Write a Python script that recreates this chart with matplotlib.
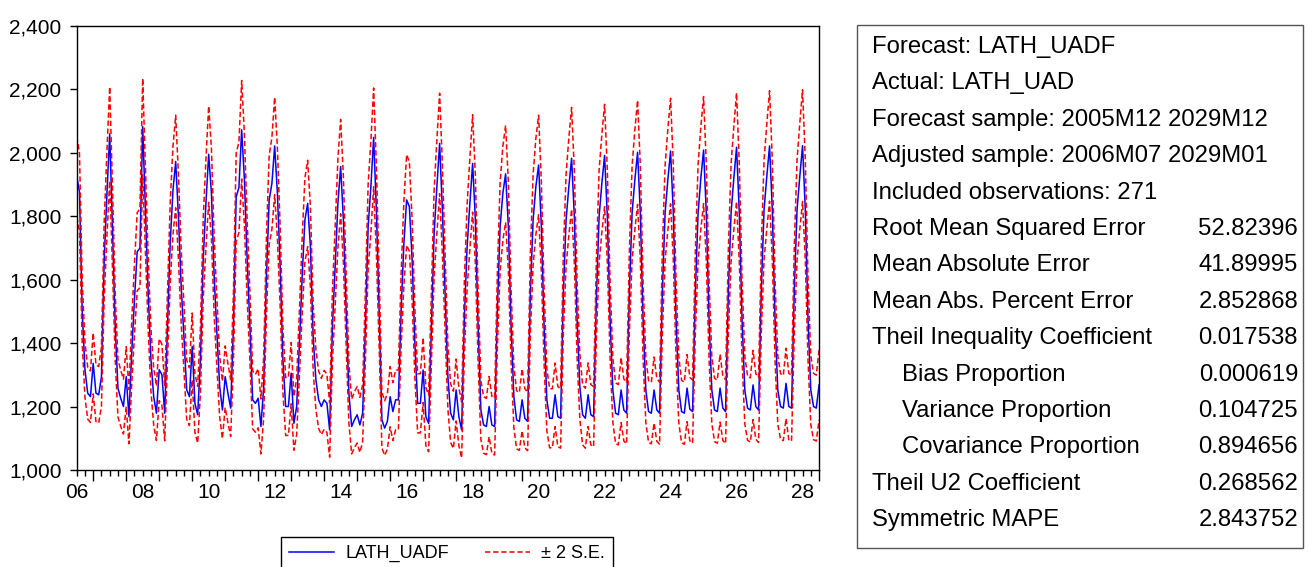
import numpy as np
import pandas as pd
import matplotlib
matplotlib.use('Agg')
import matplotlib.pyplot as plt
from matplotlib.lines import Line2D
from matplotlib.patches import Rectangle

plt.rcParams['font.family'] = ['Liberation Sans', 'DejaVu Sans']

# forecast LATH_UADF, monthly, 2006M07 .. 2029M01
y2006 = [1925, 1877, 1500, 1316, 1242, 1231]
y2007 = [1336, 1242, 1237, 1294, 1662, 1872, 2059, 1767, 1452, 1258, 1226, 1200]
y2008 = [1294, 1168, 1368, 1536, 1688, 1699, 2082, 1819, 1557, 1347, 1231, 1179]
y2009 = [1316, 1300, 1179, 1450, 1714, 1880, 1972, 1798, 1578, 1420, 1253, 1231]
y2010 = [1389, 1210, 1174, 1347, 1662, 1840, 1995, 1872, 1609, 1431, 1263, 1189]
y2011 = [1294, 1242, 1195, 1450, 1860, 1890, 2072, 1914, 1662, 1452, 1221, 1210]
y2012 = [1226, 1137, 1260, 1609, 1851, 1903, 2021, 1872, 1641, 1347, 1200, 1200]
y2013 = [1305, 1147, 1200, 1399, 1609, 1788, 1840, 1704, 1420, 1284, 1221, 1200]
y2014 = [1221, 1210, 1126, 1450, 1641, 1840, 1956, 1788, 1504, 1242, 1137, 1158]
y2015 = [1174, 1142, 1179, 1452, 1767, 1893, 2048, 1819, 1504, 1158, 1132, 1153]
y2016 = [1231, 1184, 1221, 1221, 1504, 1714, 1851, 1830, 1662, 1399, 1210, 1210]
y2017 = [1315, 1168, 1147, 1452, 1746, 1893, 2029, 1819, 1557, 1294, 1179, 1158]
y2018 = [1252, 1168, 1126, 1480, 1704, 1840, 1966, 1788, 1452, 1189, 1142, 1137]
y2019 = [1200, 1142, 1137, 1504, 1767, 1872, 1933, 1767, 1452, 1231, 1158, 1153]
y2020 = [1221, 1163, 1153, 1557, 1788, 1893, 1961, 1767, 1452, 1221, 1163, 1163]
y2021 = [1237, 1168, 1163, 1557, 1788, 1893, 1982, 1798, 1473, 1263, 1174, 1163]
y2022 = [1237, 1174, 1168, 1536, 1798, 1903, 1991, 1798, 1473, 1252, 1179, 1174]
y2023 = [1252, 1189, 1179, 1557, 1809, 1914, 2001, 1809, 1473, 1252, 1184, 1179]
y2024 = [1252, 1189, 1179, 1557, 1809, 1914, 2005, 1809, 1473, 1252, 1184, 1179]
y2025 = [1258, 1192, 1184, 1557, 1809, 1919, 2008, 1809, 1473, 1252, 1189, 1184]
y2026 = [1258, 1195, 1184, 1557, 1809, 1919, 2017, 1809, 1473, 1252, 1195, 1189]
y2027 = [1268, 1200, 1189, 1567, 1820, 1925, 2021, 1820, 1473, 1252, 1200, 1195]
y2028 = [1273, 1200, 1195, 1567, 1820, 1925, 2022, 1820, 1473, 1252, 1200, 1195]
y2029 = [1268]

# 2 x S.E. as a share of the forecast, one value per year 2006..2029
band_pct = [0.066, 0.072, 0.073, 0.074, 0.076, 0.075, 0.076, 0.074, 0.076, 0.076,
            0.077, 0.078, 0.078, 0.079, 0.080, 0.081, 0.081, 0.082, 0.083, 0.084,
            0.085, 0.086, 0.087, 0.087]

years = [y2006, y2007, y2008, y2009, y2010, y2011, y2012, y2013, y2014, y2015, y2016,
         y2017, y2018, y2019, y2020, y2021, y2022, y2023, y2024, y2025, y2026, y2027,
         y2028, y2029]

fcst = np.concatenate([np.array(v, float) for v in years])
pct = np.concatenate([[p] * len(v) for p, v in zip(band_pct, years)])
upper = fcst * (1 + pct)
lower = fcst * (1 - pct)

months = pd.period_range('2006-07', periods=len(fcst), freq='M')
x = np.arange(len(months))

stats_labels = ['Root Mean Squared Error', 'Mean Absolute Error', 'Mean Abs. Percent Error',
                'Theil Inequality Coefficient', '   Bias Proportion', '   Variance Proportion',
                '   Covariance Proportion', 'Theil U2 Coefficient', 'Symmetric MAPE']
stats_values = ['52.82396', '41.89995', '2.852868', '0.017538', '0.000619', '0.104725',
                '0.894656', '0.268562', '2.843752']
header_lines = ['Forecast: LATH_UADF', 'Actual: LATH_UAD',
                'Forecast sample: 2005M12 2029M12', 'Adjusted sample: 2006M07 2029M01',
                'Included observations: 271']

fig = plt.figure(figsize=(13.09, 5.67), dpi=100)
ax = fig.add_axes([0.0586, 0.1711, 0.5671, 0.7836])

dash = (0, (3.5, 1.8))
ax.plot(x, fcst, color='#0000ff', lw=1.1)
ax.plot(x, upper, color='#ff0000', lw=1.1, linestyle=dash)
ax.plot(x, lower, color='#ff0000', lw=1.1, linestyle=dash)

ax.set_xlim(0, len(x) - 1)
ax.set_ylim(1000, 2400)
ax.set_yticks(np.arange(1000, 2401, 200))
ax.set_yticklabels([f'{v:,}' for v in range(1000, 2401, 200)])

jan = x[months.month == 1]
quarters = x[months.month % 3 == 1]
ax.set_xticks(jan)
ax.set_xticklabels([''] * len(jan))
ax.set_xticks(quarters, minor=True)
ax.tick_params(axis='x', which='major', length=8, width=1, direction='out')
ax.tick_params(axis='x', which='minor', length=4.5, width=1, direction='out')
ax.tick_params(axis='y', length=5, width=1, direction='out', labelsize=15, pad=6)

lab_pos = x[(months.month == 7) & (months.year % 2 == 0)]
for p in lab_pos:
    ax.text(p, -0.03, f'{months[p].year % 100:02d}', transform=ax.get_xaxis_transform(),
            ha='center', va='top', fontsize=15)

for s in ax.spines.values():
    s.set_linewidth(1.0)

handles = [Line2D([], [], color='#0000ff', lw=1.1),
           Line2D([], [], color='#ff0000', lw=1.1, linestyle=dash)]
fig.legend(handles, ['LATH_UADF', '± 2 S.E.'], loc='upper center', ncol=2,
           bbox_to_anchor=(0.3415, 1 - 537 / 567), borderaxespad=0, fontsize=13,
           frameon=True, fancybox=False, edgecolor='black', framealpha=1,
           handlelength=2.5, columnspacing=2.0, borderpad=0.45, handletextpad=0.6)

# stats panel
fig.patches.append(Rectangle((857 / 1309, 1 - 548 / 567), 446 / 1309, 523 / 567,
                             transform=fig.transFigure, fill=False, edgecolor='#555555',
                             lw=1.0))
fs = 17.2
line_y = [47 + 36.4 * i for i in range(14)]
for i, t in enumerate(header_lines):
    fig.text(872 / 1309, 1 - line_y[i] / 567, t, fontsize=fs, va='center', ha='left')
for j, (t, v) in enumerate(zip(stats_labels, stats_values)):
    yy = 1 - line_y[len(header_lines) + j] / 567
    indent = 30 if t.startswith('   ') else 0
    fig.text((872 + indent) / 1309, yy, t.strip(), fontsize=fs, va='center', ha='left')
    fig.text(1298 / 1309, yy, v, fontsize=fs, va='center', ha='right')

fig.savefig('out.png', dpi=100)
